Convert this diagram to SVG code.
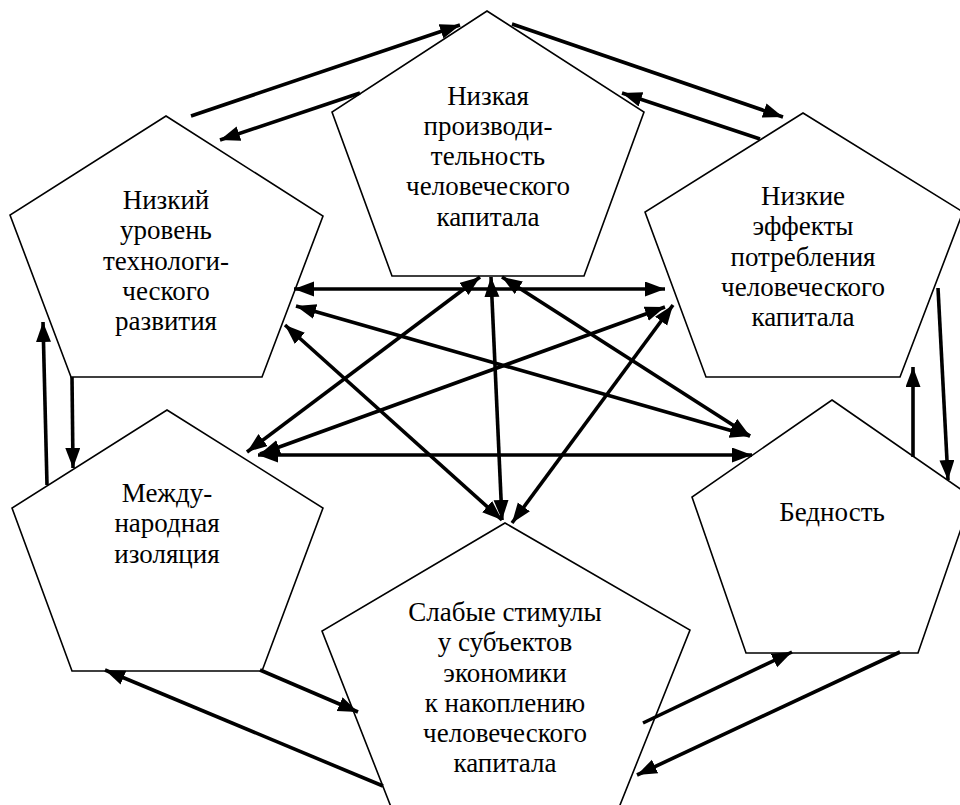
<svg xmlns="http://www.w3.org/2000/svg" width="960" height="805" viewBox="0 0 960 805">
<defs>
<marker id="ah" markerUnits="userSpaceOnUse" markerWidth="22" markerHeight="16" refX="20" refY="7.5" orient="auto-start-reverse" viewBox="0 0 22 16">
<path d="M0,0 L20,7.5 L0,15 z" fill="#000"/>
</marker>
<style>
.pg{fill:#fff;stroke:#000;stroke-width:1.6;stroke-linejoin:miter}
.t{font-family:"Liberation Serif","Times New Roman",serif;font-size:27px;fill:#000;text-anchor:middle}
.c line{stroke:#000;stroke-width:3.6;marker-end:url(#ah)}
.c line.d{marker-start:url(#ah)}
</style>
</defs>
<rect width="960" height="805" fill="#fff"/>
<g id="n1">
<polygon class="pg" points="487,11 644,112 584,276 392,276 332,112"/>
<text class="t"><tspan x="488" y="105">Низкая</tspan><tspan x="488" y="135">производи-</tspan><tspan x="488" y="165">тельность</tspan><tspan x="488" y="195">человеческого</tspan><tspan x="488" y="226">капитала</tspan></text>
</g>
<g id="n2">
<polygon class="pg" points="166,116 323,216 262,377 71,377 10,215"/>
<text class="t"><tspan x="166" y="209">Низкий</tspan><tspan x="166" y="239">уровень</tspan><tspan x="166" y="270">технологи-</tspan><tspan x="166" y="300">ческого</tspan><tspan x="166" y="330">развития</tspan></text>
</g>
<g id="n3">
<polygon class="pg" points="803,113 963,212 900,377 706,377 645,212"/>
<text class="t"><tspan x="803" y="205">Низкие</tspan><tspan x="803" y="235">эффекты</tspan><tspan x="803" y="266">потребления</tspan><tspan x="803" y="296">человеческого</tspan><tspan x="803" y="326">капитала</tspan></text>
</g>
<g id="n4">
<polygon class="pg" points="167,410 323,508 262,671 72,671 12,508"/>
<text class="t"><tspan x="167" y="502">Между-</tspan><tspan x="167" y="532">народная</tspan><tspan x="167" y="563">изоляция</tspan></text>
</g>
<g id="n5">
<polygon class="pg" points="505,523 690,630 608,835 402,835 322,631"/>
<text class="t"><tspan x="505" y="621">Слабые стимулы</tspan><tspan x="505" y="651">у субъектов</tspan><tspan x="505" y="682">экономики</tspan><tspan x="505" y="712">к накоплению</tspan><tspan x="505" y="742">человеческого</tspan><tspan x="505" y="772">капитала</tspan></text>
</g>
<g id="n6">
<polygon class="pg" points="832,400 972,497 918,653 746,653 692,497"/>
<text class="t"><tspan x="832" y="521">Бедность</tspan></text>
</g>
<g id="connectors" class="c">
<line x1="191" y1="116" x2="460" y2="25"/>
<line x1="360" y1="93" x2="220" y2="140"/>
<line x1="512" y1="24" x2="783" y2="117"/>
<line x1="760" y1="139" x2="622" y2="93"/>
<line x1="938" y1="288" x2="948" y2="480"/>
<line x1="913" y1="457" x2="913" y2="367"/>
<line x1="47" y1="485" x2="43" y2="322"/>
<line x1="72" y1="377" x2="73" y2="468"/>
<line x1="260" y1="670" x2="358" y2="712"/>
<line x1="383" y1="786" x2="105" y2="670"/>
<line x1="643" y1="723" x2="792" y2="652"/>
<line x1="900" y1="652" x2="637" y2="775"/>
<line class="d" x1="294" y1="289" x2="665" y2="289"/>
<line class="d" x1="258" y1="455" x2="752" y2="455"/>
<line class="d" x1="296" y1="306" x2="750" y2="436"/>
<line class="d" x1="665" y1="307" x2="260" y2="454"/>
<line class="d" x1="285" y1="325" x2="502" y2="520"/>
<line class="d" x1="673" y1="305" x2="512" y2="523"/>
<line class="d" x1="480" y1="277" x2="247" y2="452"/>
<line class="d" x1="491" y1="277" x2="502" y2="520"/>
<line class="d" x1="502" y1="277" x2="750" y2="436"/>
</g>
</svg>
